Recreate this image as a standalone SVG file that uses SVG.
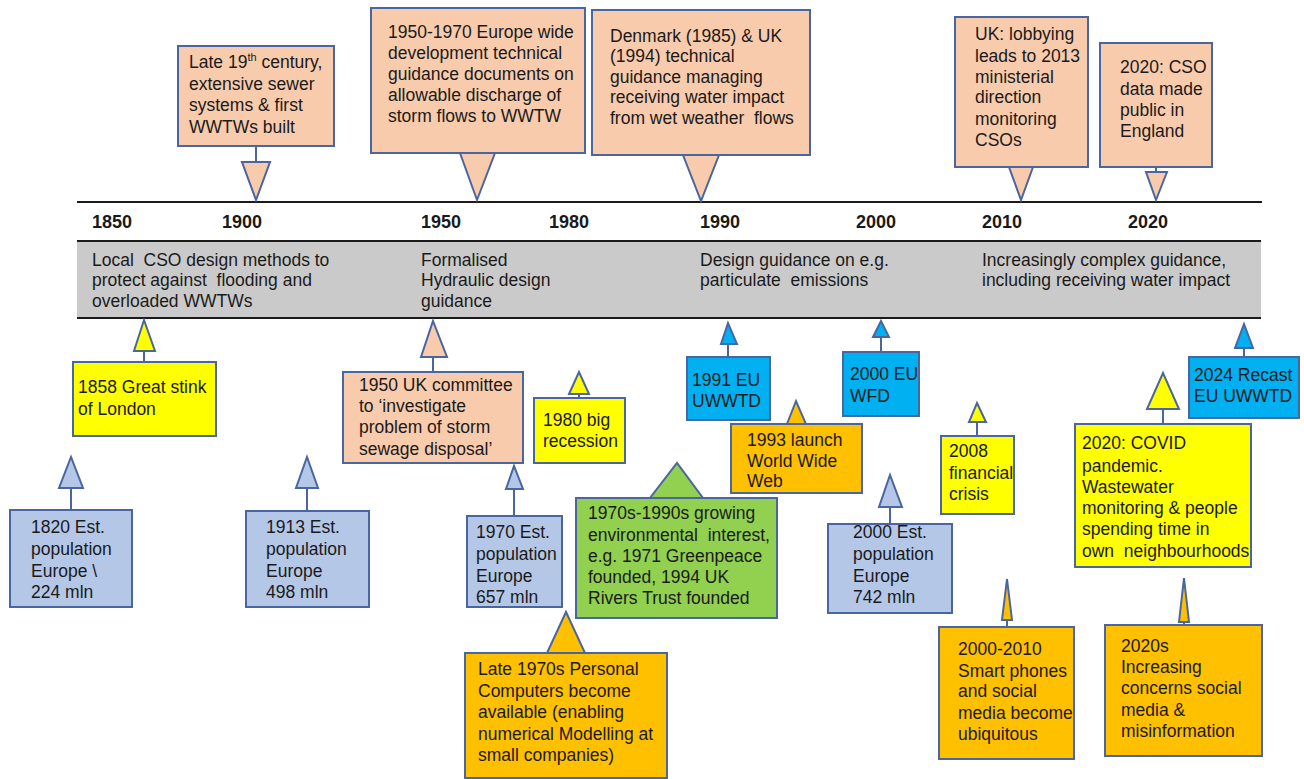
<svg xmlns="http://www.w3.org/2000/svg" width="1304" height="779" viewBox="0 0 1304 779">
<style>
.b{stroke:#4A66A0;stroke-width:2}
.s{stroke:#4A66A0;stroke-width:2;fill:none}
.pe{fill:#F8CBAD}.po{fill:#B4C7E7}.ye{fill:#FFFF00}.or{fill:#FFC000}.cy{fill:#00B0F0}.gr{fill:#92D050}
text{font-family:"Liberation Sans",Arial,sans-serif;font-size:17.5px;fill:#1a1a1a;white-space:pre}
.yr{font-weight:bold;font-size:18px}
</style>
<rect width="1304" height="779" fill="#ffffff"/>
<g id="axis">
<rect x="77" y="241" width="1184" height="77" fill="#CACACA"/>
<line x1="77" y1="202" x2="1262" y2="202" stroke="#1a1a1a" stroke-width="2.2"/>
<line x1="77" y1="241" x2="1261" y2="241" stroke="#1a1a1a" stroke-width="2.2"/>
<line x1="77" y1="318" x2="1261" y2="318" stroke="#1a1a1a" stroke-width="2.2"/>
<text class="yr" x="92" y="228">1850</text>
<text class="yr" x="222" y="228">1900</text>
<text class="yr" x="421" y="228">1950</text>
<text class="yr" x="549" y="228">1980</text>
<text class="yr" x="700" y="228">1990</text>
<text class="yr" x="856" y="228">2000</text>
<text class="yr" x="982" y="228">2010</text>
<text class="yr" x="1128" y="228">2020</text>
<text x="92" y="266" xml:space="preserve">Local  CSO design methods to</text>
<text x="92" y="286" xml:space="preserve">protect against  flooding and</text>
<text x="92" y="307">overloaded WWTWs</text>
<text x="421" y="266">Formalised</text>
<text x="421" y="286">Hydraulic design</text>
<text x="421" y="307">guidance</text>
<text x="700" y="266">Design guidance on e.g.</text>
<text x="700" y="286" xml:space="preserve">particulate  emissions</text>
<text x="982" y="266">Increasingly complex guidance,</text>
<text x="982" y="286">including receiving water impact</text>
</g>
<g id="connectors">
<line class="s" x1="256" y1="146" x2="256" y2="162"/>
<polygon class="b pe" points="242,162 270,162 256,200"/>
<polygon class="b pe" points="460,153 495,153 477,200"/>
<polygon class="b pe" points="683,155 719,155 701,201"/>
<polygon class="b pe" points="1009,167 1033,167 1021,200"/>
<line class="s" x1="1156" y1="167" x2="1156" y2="172"/>
<polygon class="b pe" points="1146,172 1167,172 1156,200"/>
<line class="s" x1="144" y1="362" x2="144" y2="351"/>
<polygon class="b ye" points="134,351 155,351 144,320"/>
<line class="s" x1="71" y1="510" x2="71" y2="488"/>
<polygon class="b po" points="59,488 83,488 71,457"/>
<line class="s" x1="307" y1="511" x2="307" y2="488"/>
<polygon class="b po" points="296,488 318,488 307,457"/>
<line class="s" x1="433" y1="372" x2="433" y2="357"/>
<polygon class="b pe" points="421,357 447,357 433,321"/>
<line class="s" x1="579" y1="398" x2="579" y2="394"/>
<polygon class="b ye" points="569,394 589,394 579,372"/>
<line class="s" x1="514" y1="516" x2="514" y2="489"/>
<polygon class="b po" points="506,489 523,489 514,466"/>
<polygon class="b gr" points="650,498 703,498 677,463"/>
<line class="s" x1="728" y1="357" x2="728" y2="344"/>
<polygon class="b cy" points="721,344 737,344 728,323"/>
<polygon class="b or" points="787,424 806,424 796,401"/>
<line class="s" x1="881" y1="352" x2="881" y2="337"/>
<polygon class="b cy" points="873,337 889,337 881,321"/>
<line class="s" x1="890" y1="524" x2="890" y2="507"/>
<polygon class="b po" points="879,507 902,507 890,475"/>
<line class="s" x1="977" y1="436" x2="977" y2="422"/>
<polygon class="b ye" points="969,422 986,422 977,403"/>
<line class="s" x1="1163" y1="424" x2="1163" y2="409"/>
<polygon class="b ye" points="1147,409 1179,409 1163,373"/>
<line class="s" x1="1244" y1="357" x2="1244" y2="348"/>
<polygon class="b cy" points="1235,348 1253,348 1244,324"/>
<polygon class="b or" points="547,653 585,653 566,612"/>
<line class="s" x1="1007" y1="627" x2="1007" y2="620"/>
<polygon class="b or" points="1002,620 1012,620 1007,579"/>
<line class="s" x1="1184" y1="625" x2="1184" y2="622"/>
<polygon class="b or" points="1179,622 1189,622 1184,578"/>
</g>
<g id="n-late19">
<rect class="b pe" x="178" y="46" width="156" height="100"/>
<text x="189" y="68">Late 19<tspan font-size="11" dy="-7">th</tspan><tspan dy="7"> century,</tspan></text>
<text x="189" y="90">extensive sewer</text>
<text x="189" y="111">systems &amp; first</text>
<text x="189" y="133">WWTWs built</text>
</g>
<g id="n-1950-1970">
<rect class="b pe" x="371" y="8" width="214" height="145"/>
<text x="388" y="38">1950-1970 Europe wide</text>
<text x="388" y="59">development technical</text>
<text x="388" y="80">guidance documents on</text>
<text x="388" y="101">allowable discharge of</text>
<text x="388" y="122">storm flows to WWTW</text>
</g>
<g id="n-denmark">
<rect class="b pe" x="592" y="10" width="218" height="145"/>
<text x="610" y="42">Denmark (1985) &amp; UK</text>
<text x="610" y="62">(1994) technical</text>
<text x="610" y="83">guidance managing</text>
<text x="610" y="103">receiving water impact</text>
<text x="610" y="124" xml:space="preserve">from wet weather  flows</text>
</g>
<g id="n-uk-lobbying">
<rect class="b pe" x="955" y="17" width="133" height="150"/>
<text x="975" y="40">UK: lobbying</text>
<text x="975" y="62">leads to 2013</text>
<text x="975" y="83">ministerial</text>
<text x="975" y="103">direction</text>
<text x="975" y="125">monitoring</text>
<text x="975" y="146">CSOs</text>
</g>
<g id="n-cso-data">
<rect class="b pe" x="1100" y="43" width="112" height="124"/>
<text x="1120" y="73">2020: CSO</text>
<text x="1120" y="95">data made</text>
<text x="1120" y="116">public in</text>
<text x="1120" y="137">England</text>
</g>
<g id="n-1858">
<rect class="b ye" x="73" y="362" width="143" height="74"/>
<text x="78" y="393">1858 Great stink</text>
<text x="78" y="415">of London</text>
</g>
<g id="n-1820">
<rect class="b po" x="10" y="510" width="122" height="97"/>
<text x="31" y="533">1820 Est.</text>
<text x="31" y="555">population</text>
<text x="31" y="577">Europe \</text>
<text x="31" y="598">224 mln</text>
</g>
<g id="n-1913">
<rect class="b po" x="246" y="511" width="123" height="96"/>
<text x="266" y="533">1913 Est.</text>
<text x="266" y="555">population</text>
<text x="266" y="577">Europe</text>
<text x="266" y="598">498 mln</text>
</g>
<g id="n-1950-uk">
<rect class="b pe" x="343" y="372" width="180" height="91"/>
<text x="359" y="391">1950 UK committee</text>
<text x="359" y="412">to ‘investigate</text>
<text x="359" y="433">problem of storm</text>
<text x="359" y="455">sewage disposal’</text>
</g>
<g id="n-1980">
<rect class="b ye" x="534" y="398" width="91" height="65"/>
<text x="543" y="426">1980 big</text>
<text x="543" y="447">recession</text>
</g>
<g id="n-1970">
<rect class="b po" x="467" y="516" width="95" height="91"/>
<text x="476" y="538">1970 Est.</text>
<text x="476" y="560">population</text>
<text x="476" y="582">Europe</text>
<text x="476" y="603">657 mln</text>
</g>
<g id="n-green">
<rect class="b gr" x="576" y="498" width="201" height="120"/>
<text x="588" y="519">1970s-1990s growing</text>
<text x="588" y="541" xml:space="preserve">environmental  interest,</text>
<text x="588" y="562">e.g. 1971 Greenpeace</text>
<text x="588" y="583">founded, 1994 UK</text>
<text x="588" y="604">Rivers Trust founded</text>
</g>
<g id="n-1991">
<rect class="b cy" x="687" y="357" width="83" height="63"/>
<text x="692" y="386">1991 EU</text>
<text x="692" y="407">UWWTD</text>
</g>
<g id="n-1993">
<rect class="b or" x="731" y="424" width="131" height="69"/>
<text x="747" y="446">1993 launch</text>
<text x="747" y="467">World Wide</text>
<text x="747" y="487">Web</text>
</g>
<g id="n-2000-wfd">
<rect class="b cy" x="843" y="352" width="76" height="64"/>
<text x="850" y="380">2000 EU</text>
<text x="850" y="402">WFD</text>
</g>
<g id="n-2000-pop">
<rect class="b po" x="828" y="524" width="124" height="89"/>
<text x="853" y="538">2000 Est.</text>
<text x="853" y="560">population</text>
<text x="853" y="582">Europe</text>
<text x="853" y="603">742 mln</text>
</g>
<g id="n-2008">
<rect class="b ye" x="941" y="436" width="73" height="78"/>
<text x="949" y="457">2008</text>
<text x="949" y="479">financial</text>
<text x="949" y="500">crisis</text>
</g>
<g id="n-covid">
<rect class="b ye" x="1075" y="424" width="176" height="143"/>
<text x="1082" y="449">2020: COVID</text>
<text x="1082" y="472">pandemic.</text>
<text x="1082" y="493">Wastewater</text>
<text x="1082" y="514">monitoring &amp; people</text>
<text x="1082" y="535">spending time in</text>
<text x="1082" y="557" xml:space="preserve">own  neighbourhoods</text>
</g>
<g id="n-2024">
<rect class="b cy" x="1189" y="357" width="110" height="61"/>
<text x="1194" y="381">2024 Recast</text>
<text x="1194" y="402">EU UWWTD</text>
</g>
<g id="n-pc">
<rect class="b or" x="465" y="653" width="202" height="125"/>
<text x="478" y="675">Late 1970s Personal</text>
<text x="478" y="697">Computers become</text>
<text x="478" y="718">available (enabling</text>
<text x="478" y="740">numerical Modelling at</text>
<text x="478" y="761">small companies)</text>
</g>
<g id="n-2000-2010">
<rect class="b or" x="939" y="627" width="135" height="132"/>
<text x="958" y="655">2000-2010</text>
<text x="958" y="677">Smart phones</text>
<text x="958" y="697">and social</text>
<text x="958" y="719">media become</text>
<text x="958" y="740">ubiquitous</text>
</g>
<g id="n-2020s">
<rect class="b or" x="1105" y="625" width="157" height="131"/>
<text x="1121" y="652">2020s</text>
<text x="1121" y="673">Increasing</text>
<text x="1121" y="694">concerns social</text>
<text x="1121" y="716">media &amp;</text>
<text x="1121" y="737">misinformation</text>
</g>
</svg>
